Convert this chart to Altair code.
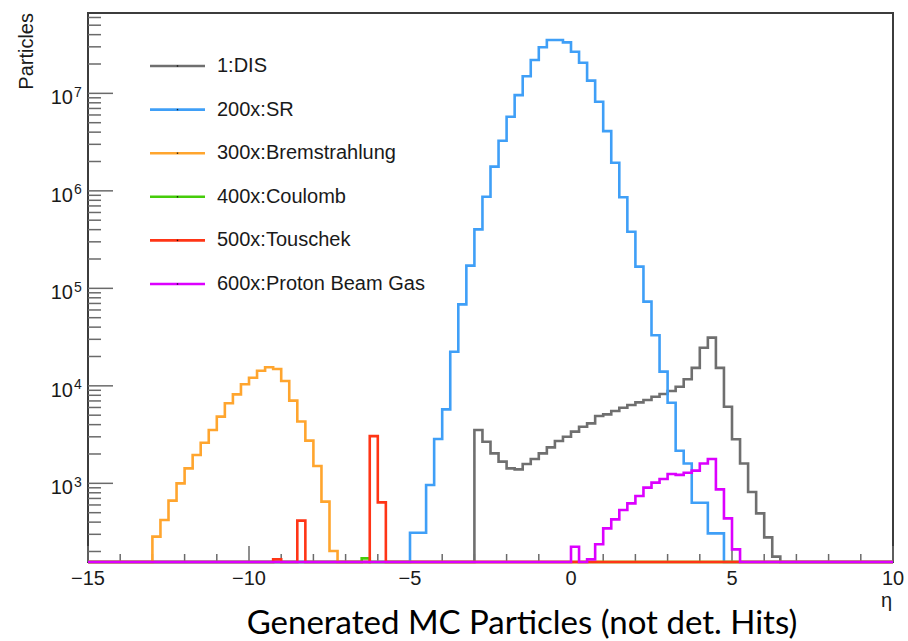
import altair as alt
import pandas as pd
import numpy as np

# ---------------- data ----------------
X_MIN, X_MAX, BIN_W = -15.0, 10.0, 0.25
Y_MIN, Y_MAX = 156, 6.67e7

NAMES = ["1:DIS", "200x:SR", "300x:Bremstrahlung", "400x:Coulomb",
         "500x:Touschek", "600x:Proton Beam Gas"]
COLORS = ["#6f6f6f", "#3f9ff7", "#ffa52e", "#45cc0a", "#ff3516", "#dc00ff"]

DIS_START = -3.0
DIS = [3520, 2670, 2030, 1670, 1425, 1390, 1580, 1775, 2030, 2340, 2715, 3010,
       3390, 3810, 4120, 4900, 5100, 5520, 5970, 6350, 6770, 7160, 7740, 8240,
       8850, 9800, 11700, 15300, 24600, 31200, 15300, 6110, 2830, 1600, 815,
       492, 279, 177]

SR_START = -5.0
SR = [311, 311, 961, 2845, 5740, 22400, 68500, 171000, 403000, 870000,
      1770000, 3270000, 5750000, 9600000, 15000000, 22000000, 29700000,
      35200000, 35200000, 33300000, 26700000, 20600000, 13500000, 8200000,
      4100000, 1940000, 860000, 381000, 167000, 73000, 33000, 14000, 6700,
      2160, 1600, 632, 632, 307, 307]

BREMS_START = -13.0
BREMS = [284, 421, 664, 1000, 1425, 1950, 2610, 3520, 4830, 6620, 8180, 10400,
         12100, 14300, 15500, 14900, 11200, 7050, 4300, 2740, 1505, 649, 202]

COULOMB_START = -6.5
COULOMB = [170]

TOUSCHEK_START = -9.25
TOUSCHEK = [166, 0, 0, 414, 0, 0, 0, 0, 0, 0, 0, 0, 3050, 638]

PBG_START = 0.0
PBG = [224, 0, 166, 237, 345, 427, 532, 623, 741, 903, 1016, 1107, 1245, 1220,
       1285, 1350, 1600, 1775, 867, 437, 210]

STARTS = [DIS_START, SR_START, BREMS_START, COULOMB_START, TOUSCHEK_START, PBG_START]
SERIES = [DIS, SR, BREMS, COULOMB, TOUSCHEK, PBG]

X_MAJOR = [-15, -10, -5, 0, 5, 10]
X_LABELS = ["\u221215", "\u221210", "\u22125", "0", "5", "10"]
X_MINOR = [v for v in range(-14, 10) if v % 5 != 0]
Y_EXP = [3, 4, 5, 6, 7]
Y_MINOR = [m * 10 ** e for e in range(2, 8) for m in range(2, 10)
           if Y_MIN <= m * 10 ** e <= Y_MAX]

Y_TITLE = "Particles"
X_TITLE = "\u03b7"
CAPTION = "Generated MC Particles (not det. Hits)"

# ---------------- layout / style ----------------
W, H = 805, 549
FONT = "Liberation Sans"
TICK_COLOR = "#6a6a6a"
TEXT_COLOR = "#1a1a1a"

xs = alt.Scale(domain=[X_MIN, X_MAX], nice=False, zero=False)
ys = alt.Scale(type="log", domain=[Y_MIN, Y_MAX], nice=False, clamp=True)

NBINS = int(round((X_MAX - X_MIN) / BIN_W))
edges = X_MIN + BIN_W * np.arange(NBINS + 1)


def hist_frame(start, values):
    counts = np.zeros(NBINS)
    i0 = int(round((start - X_MIN) / BIN_W))
    counts[i0:i0 + len(values)] = values
    counts = np.where(counts > 0, counts, 1.0)  # empty bins sit on the floor
    ys_ = np.append(counts, counts[-1])
    return pd.DataFrame({"eta": edges, "n": ys_})


layers = []

# ticks (inside the frame, ROOT style)
layers.append(alt.Chart(pd.DataFrame({"v": X_MINOR})).mark_rule(
    color=TICK_COLOR, strokeWidth=1.5).encode(
    x=alt.X("v:Q", scale=xs, axis=None), y=alt.value(H), y2=alt.value(H - 8)))
layers.append(alt.Chart(pd.DataFrame({"v": X_MAJOR})).mark_rule(
    color=TICK_COLOR, strokeWidth=1.5).encode(
    x=alt.X("v:Q", scale=xs, axis=None), y=alt.value(H), y2=alt.value(H - 16)))
layers.append(alt.Chart(pd.DataFrame({"v": Y_MINOR})).mark_rule(
    color=TICK_COLOR, strokeWidth=1.5).encode(
    y=alt.Y("v:Q", scale=ys, axis=None), x=alt.value(0), x2=alt.value(13)))
layers.append(alt.Chart(pd.DataFrame({"v": [10 ** e for e in Y_EXP]})).mark_rule(
    color=TICK_COLOR, strokeWidth=1.5).encode(
    y=alt.Y("v:Q", scale=ys, axis=None), x=alt.value(0), x2=alt.value(25)))

# histograms, in ROOT drawing order
for start, vals, col in zip(STARTS, SERIES, COLORS):
    layers.append(alt.Chart(hist_frame(start, vals)).mark_line(
        interpolate="step-after", color=col, strokeWidth=2.6).encode(
        x=alt.X("eta:Q", scale=xs, axis=None),
        y=alt.Y("n:Q", scale=ys, axis=None)))

# x tick labels
layers.append(alt.Chart(pd.DataFrame({"v": X_MAJOR, "t": X_LABELS})).mark_text(
    font=FONT, fontSize=20, color=TEXT_COLOR, align="center",
    baseline="alphabetic").encode(
    x=alt.X("v:Q", scale=xs, axis=None), y=alt.value(H + 23), text="t:N"))

# y tick labels: "10" + superscript exponent
ydf = pd.DataFrame({"v": [10 ** e for e in Y_EXP], "e": [str(e) for e in Y_EXP]})
layers.append(alt.Chart(ydf).mark_text(
    font=FONT, fontSize=20, color=TEXT_COLOR, align="right",
    baseline="alphabetic", dy=10.7).encode(
    y=alt.Y("v:Q", scale=ys, axis=None), x=alt.value(-15), text=alt.value("10")))
layers.append(alt.Chart(ydf).mark_text(
    font=FONT, fontSize=14, color=TEXT_COLOR, align="left",
    baseline="alphabetic", dy=3.5).encode(
    y=alt.Y("v:Q", scale=ys, axis=None), x=alt.value(-14), text="e:N"))

# axis titles
layers.append(alt.Chart(pd.DataFrame({"t": [Y_TITLE]})).mark_text(
    font=FONT, fontSize=20, color=TEXT_COLOR, angle=270, align="right",
    baseline="alphabetic").encode(
    x=alt.value(-55), y=alt.value(0), text="t:N"))
layers.append(alt.Chart(pd.DataFrame({"t": [X_TITLE]})).mark_text(
    font=FONT, fontSize=20, color=TEXT_COLOR, align="right",
    baseline="alphabetic").encode(
    x=alt.value(W - 1), y=alt.value(H + 45), text="t:N"))

# caption under the chart
layers.append(alt.Chart(pd.DataFrame({"t": [CAPTION]})).mark_text(
    font="Lato", fontSize=33, color="#000000", align="center",
    baseline="alphabetic").encode(
    x=alt.value(434), y=alt.value(H + 72), text="t:N"))

# legend (inside the frame, ROOT TLegend style)
LEG_X0, LEG_X1, LEG_TX, LEG_Y0, LEG_DY = 62, 117, 129, 53, 43.6
for i, (name, col) in enumerate(zip(NAMES, COLORS)):
    yy = LEG_Y0 + i * LEG_DY
    row = pd.DataFrame({"t": [name]})
    layers.append(alt.Chart(row).mark_rule(color=col, strokeWidth=2.6).encode(
        x=alt.value(LEG_X0), x2=alt.value(LEG_X1), y=alt.value(yy)))
    layers.append(alt.Chart(row).mark_square(color="#000000", size=2, opacity=0.8).encode(
        x=alt.value((LEG_X0 + LEG_X1) / 2), y=alt.value(yy)))
    layers.append(alt.Chart(row).mark_text(
        font=FONT, fontSize=20, color=TEXT_COLOR, align="left",
        baseline="middle").encode(
        x=alt.value(LEG_TX), y=alt.value(yy), text="t:N"))

chart = alt.layer(*layers).properties(
    width=W, height=H,
    padding={"left": 88, "top": 13, "right": 15, "bottom": 79},
    autosize=alt.AutoSizeParams(type="none"),
    background="white",
).configure_view(stroke="#3c3c3c", strokeWidth=2)

chart.save("out.html", embed_options={"renderer": "svg", "actions": False})
